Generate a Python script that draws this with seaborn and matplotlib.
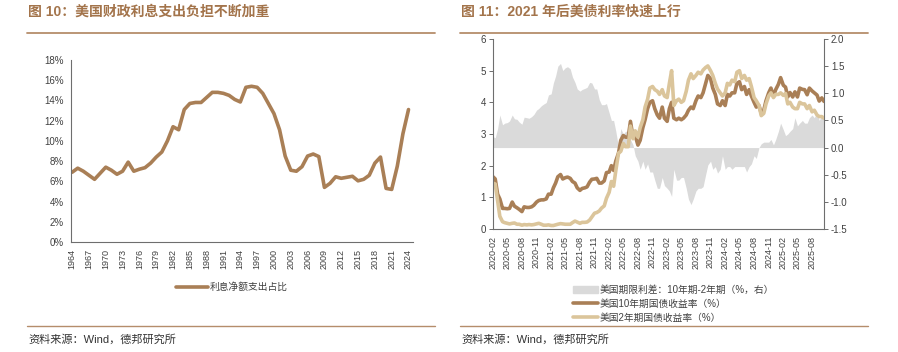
import matplotlib
matplotlib.use('Agg')
import matplotlib.pyplot as plt
import matplotlib.dates as mdates
from matplotlib.lines import Line2D
from matplotlib.patches import Patch
from matplotlib.ticker import FormatStrFormatter
import pandas as pd
import seaborn as sns

# ---- data: left chart (net interest share of outlays, %) ----
years = list(range(1964, 2025))
interest_share = [
    6.9, 7.3, 7.0, 6.6, 6.2, 6.8, 7.4, 7.1, 6.7, 7.0,
    7.9, 7.0, 7.2, 7.35, 7.8, 8.4, 8.9, 10.0, 11.4, 11.1,
    13.1, 13.7, 13.8, 13.8, 14.3, 14.8, 14.8, 14.7, 14.5, 14.1,
    13.85, 15.3, 15.4, 15.3, 14.7, 13.7, 12.7, 11.1, 8.5, 7.1,
    7.0, 7.45, 8.5, 8.7, 8.45, 5.4, 5.8, 6.45, 6.3, 6.4,
    6.5, 6.05, 6.2, 6.6, 7.8, 8.4, 5.3, 5.2, 7.5, 10.7,
    13.1,
]

# ---- data: right chart (semi-monthly readings, 2020-02 .. 2025-10) ----
bond_dates = pd.date_range('2020-02-01', periods=138, freq='SMS')
y10 = [
    1.65, 1.58, 1.10, 0.95, 0.65, 0.65, 0.64, 0.65, 0.85, 0.72, 0.67, 0.62,
    0.55, 0.70, 0.68, 0.68, 0.70, 0.75, 0.85, 0.90, 0.92, 0.92,
    0.95, 1.10, 1.10, 1.30, 1.45, 1.65, 1.72, 1.58, 1.62, 1.64, 1.60, 1.50,
    1.45, 1.30, 1.22, 1.28, 1.30, 1.33, 1.48, 1.57, 1.58, 1.60, 1.45, 1.45,
    1.52, 1.78, 1.80, 2.00, 1.85, 2.15, 2.40, 2.80, 2.95, 2.90, 2.90, 3.40,
    2.90, 2.95, 2.65, 2.80, 3.20, 3.45, 3.80, 4.00, 4.05, 3.80, 3.60, 3.50,
    3.85, 3.50, 3.40, 3.80, 4.00, 3.50, 3.45, 3.50, 3.45, 3.50, 3.60, 3.75,
    3.85, 3.80, 4.05, 4.20, 4.15, 4.30, 4.60, 4.85, 4.75, 4.45, 4.25, 3.95,
    3.90, 4.05, 3.90, 4.25, 4.20, 4.30, 4.30, 4.60, 4.65, 4.40, 4.50, 4.25,
    4.40, 4.20, 4.00, 3.85, 3.90, 3.65, 3.75, 4.05, 4.30, 4.45, 4.20, 4.40,
    4.57, 4.78, 4.54, 4.48, 4.17, 4.31, 4.17, 4.33, 4.17, 4.45,
    4.41, 4.40, 4.24, 4.45, 4.36, 4.30, 4.23, 4.04, 4.14, 4.03,
]
y2 = [
    1.45, 1.42, 0.90, 0.40, 0.23, 0.20, 0.18, 0.16, 0.18, 0.19, 0.15, 0.15,
    0.12, 0.14, 0.13, 0.14, 0.13, 0.14, 0.16, 0.18, 0.15, 0.12,
    0.12, 0.13, 0.11, 0.11, 0.13, 0.15, 0.17, 0.16, 0.15, 0.15, 0.15, 0.20,
    0.25, 0.22, 0.18, 0.21, 0.21, 0.22, 0.28, 0.38, 0.50, 0.52, 0.57, 0.66,
    0.73, 0.97, 1.16, 1.50, 1.35, 1.85, 2.40, 2.45, 2.70, 2.60, 2.60, 3.25,
    2.85, 3.10, 2.90, 3.20, 3.45, 3.85, 4.10, 4.45, 4.50, 4.40, 4.35, 4.25,
    4.40, 4.20, 4.15, 4.60, 5.00, 3.90, 4.05, 4.10, 4.00, 4.05, 4.35, 4.70,
    4.90, 4.75, 4.85, 4.95, 4.90, 5.02, 5.10, 5.15, 5.00, 4.85, 4.60, 4.42,
    4.30, 4.20, 4.30, 4.60, 4.55, 4.70, 4.65, 4.95, 5.00, 4.75, 4.85, 4.70,
    4.75, 4.50, 4.15, 4.05, 3.90, 3.58, 3.65, 3.95, 4.20, 4.30, 4.15, 4.25,
    4.25, 4.30, 4.22, 4.28, 3.95, 4.00, 3.85, 3.80, 3.80, 4.00,
    3.95, 3.95, 3.80, 3.90, 3.70, 3.75, 3.60, 3.55, 3.55, 3.50,
]
spread = [
    0.20, 0.18, 0.35, 0.60, 0.42, 0.45, 0.46, 0.49, 0.60, 0.53, 0.52, 0.47,
    0.43, 0.56, 0.55, 0.54, 0.57, 0.61, 0.69, 0.72, 0.77, 0.80,
    0.83, 0.97, 0.99, 1.19, 1.32, 1.50, 1.55, 1.42, 1.47, 1.49, 1.45, 1.30,
    1.20, 1.08, 1.04, 1.07, 1.09, 1.11, 1.20, 1.19, 1.08, 1.08, 0.88, 0.79,
    0.79, 0.81, 0.64, 0.50, 0.50, 0.30, 0.00, 0.35, 0.25, 0.30, 0.30, 0.15,
    0.05, -0.15, -0.25, -0.40, -0.25, -0.40, -0.30, -0.45, -0.45, -0.60, -0.75, -0.75,
    -0.55, -0.70, -0.75, -0.80, -0.90, -0.40, -0.60, -0.60, -0.55, -0.55, -0.75, -0.95,
    -1.05, -0.95, -0.80, -0.75, -0.75, -0.72, -0.50, -0.32, -0.25, -0.40, -0.35, -0.47,
    -0.40, -0.15, -0.40, -0.35, -0.35, -0.40, -0.35, -0.35, -0.35, -0.35, -0.35, -0.45,
    -0.35, -0.30, -0.15, -0.20, 0.00, 0.07, 0.10, 0.10, 0.10, 0.15, 0.05, 0.15,
    0.30, 0.45, 0.33, 0.22, 0.25, 0.30, 0.35, 0.55, 0.40, 0.45,
    0.50, 0.45, 0.45, 0.55, 0.60, 0.55, 0.65, 0.50, 0.60, 0.55,
]

sns.set_theme(style='white')
plt.rcParams['font.family'] = ['Liberation Sans', 'Noto Sans CJK SC']
plt.rcParams['axes.unicode_minus'] = False

BROWN = '#A97F56'
LIGHT = '#DBC59B'
GREY_FILL = '#DADADA'
TITLE_C = '#A3744B'
RULE_C = '#B58D6B'
AXIS_C = '#6E6E6E'
TEXT_C = '#404040'
LW = 2.6

W, H = 898, 352
fig = plt.figure(figsize=(8.98, 3.52), dpi=100)


def fx(px):
    return px / W


def fy(py):
    return 1 - py / H


def style_axis(ax):
    for side in ['top', 'right']:
        ax.spines[side].set_visible(False)
    for side in ['left', 'bottom']:
        ax.spines[side].set_color(AXIS_C)
        ax.spines[side].set_linewidth(0.8)
    ax.tick_params(direction='out', length=3, width=0.7, color=AXIS_C,
                   labelcolor=TEXT_C, labelsize=7, pad=2)


# ---------------- left chart ----------------
ax1 = fig.add_axes([fx(71), fy(242), fx(413 - 71), (242 - 60) / H])
sns.lineplot(x=years, y=interest_share, ax=ax1, color=BROWN, linewidth=LW)
ax1.set_xlim(1963.8, 2024.8)
ax1.set_ylim(0, 18)
ax1.set_yticks(range(0, 19, 2))
ax1.set_yticklabels([f'{v}%' for v in range(0, 19, 2)])
ax1.set_xticks(range(1964, 2025, 3))
ax1.set_xticklabels([str(y) for y in range(1964, 2025, 3)], rotation=90)
style_axis(ax1)
ax1.tick_params(axis='x', labelsize=6.5)
ax1.set_xlabel('')
ax1.set_ylabel('')

fig.legend(handles=[Line2D([], [], color=BROWN, lw=LW)],
           labels=['利息净额支出占比'], loc='center',
           bbox_to_anchor=(fx(232), fy(287)), frameon=False,
           fontsize=7, handlelength=3.2, handletextpad=0.2,
           labelcolor=TEXT_C)

# ---------------- right chart ----------------
ax2 = fig.add_axes([fx(493), fy(229), fx(824 - 493), (229 - 39) / H])
ax3 = ax2.twinx()
ax3.fill_between(bond_dates, 0, spread, color=GREY_FILL, linewidth=0)
ax3.set_ylim(-1.5, 2.0)
ax3.set_yticks([2.0, 1.5, 1.0, 0.5, 0.0, -0.5, -1.0, -1.5])
ax3.yaxis.set_major_formatter(FormatStrFormatter('%.1f'))
for side in ['top', 'left', 'bottom']:
    ax3.spines[side].set_visible(False)
ax3.spines['right'].set_color(AXIS_C)
ax3.spines['right'].set_linewidth(0.8)
ax3.tick_params(direction='out', length=3, width=0.7, color=AXIS_C,
                labelcolor=TEXT_C, labelsize=7, pad=2)
ax3.grid(False)

ax2.set_zorder(ax3.get_zorder() + 1)
ax2.patch.set_visible(False)
sns.lineplot(x=bond_dates, y=y10, ax=ax2, color=BROWN, linewidth=LW)
sns.lineplot(x=bond_dates, y=y2, ax=ax2, color=LIGHT, linewidth=LW)
ax2.set_ylim(0, 6)
ax2.set_yticks(range(0, 7))
ax2.set_xlim(pd.Timestamp('2020-02-01'), pd.Timestamp('2025-10-15'))
xt = pd.date_range('2020-02-01', '2025-08-01', freq='3MS')
ax2.set_xticks(xt)
ax2.xaxis.set_major_formatter(mdates.DateFormatter('%Y-%m'))
plt.setp(ax2.get_xticklabels(), rotation=90)
style_axis(ax2)
ax2.tick_params(axis='x', labelsize=6.5)
ax2.set_xlabel('')
ax2.set_ylabel('')

fig.legend(handles=[Patch(color=GREY_FILL),
                    Line2D([], [], color=BROWN, lw=LW),
                    Line2D([], [], color=LIGHT, lw=LW)],
           labels=['美国期限利差：10年期-2年期（%，右）',
                   '美国10年期国债收益率（%）',
                   '美国2年期国债收益率（%）'],
           loc='upper left', bbox_to_anchor=(fx(568), fy(280)),
           frameon=False, fontsize=7, handlelength=2.6, handletextpad=0.2,
           labelspacing=0.4, borderpad=0, labelcolor=TEXT_C)

# ---------------- titles, rules, sources ----------------
fig.text(fx(28), fy(12), '图 10：美国财政利息支出负担不断加重', ha='left', va='center',
         fontsize=10, fontweight='bold', color=TITLE_C)
fig.text(fx(461), fy(12), '图 11：2021 年后美债利率快速上行', ha='left', va='center',
         fontsize=10, fontweight='bold', color=TITLE_C)

for x0, x1 in [(27, 435), (460, 868)]:
    fig.add_artist(Line2D([fx(x0), fx(x1)], [fy(33), fy(33)], color=RULE_C, lw=1.3))
    fig.add_artist(Line2D([fx(x0), fx(x1)], [fy(326), fy(326)], color=RULE_C, lw=1.0))

fig.text(fx(28), fy(339), '资料来源：Wind，德邦研究所', ha='left', va='center',
         fontsize=8, color='#333333')
fig.text(fx(461), fy(339), '资料来源：Wind，德邦研究所', ha='left', va='center',
         fontsize=8, color='#333333')

fig.savefig('out.png', dpi=100)
